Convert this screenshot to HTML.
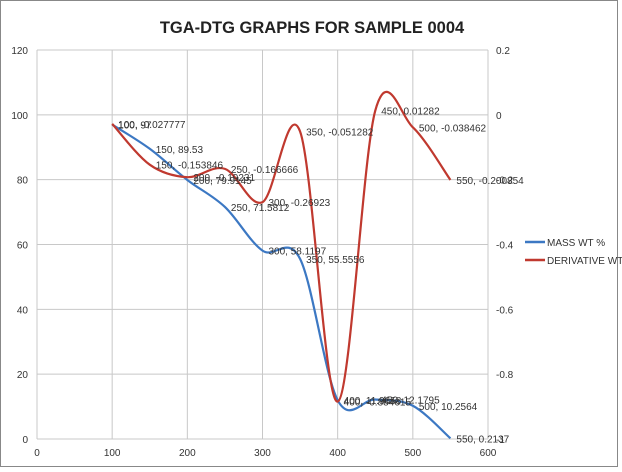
<!DOCTYPE html>
<html><head><meta charset="utf-8"><style>
body{margin:0;background:#fff;}
svg{display:block;font-family:"Liberation Sans",sans-serif;}
</style></head><body>
<svg id="c" width="622" height="472">
<rect x="0.5" y="0.5" width="617" height="466" fill="#fff" stroke="#888"/>
<text x="312" y="33" text-anchor="middle" font-size="16.5" font-weight="bold" fill="#222">TGA-DTG GRAPHS FOR SAMPLE 0004</text>
<g id="grid"></g><g id="series"></g><g id="labels"></g>
<g>
<line x1="525" y1="242" x2="545" y2="242" stroke="#3c78c3" stroke-width="2.5"/>
<text x="547" y="246" font-size="10" fill="#333">MASS WT %</text>
<line x1="525" y1="260" x2="545" y2="260" stroke="#c0392f" stroke-width="2.5"/>
<text x="547" y="264" font-size="10" fill="#333">DERIVATIVE WT</text>
</g>
</svg>
<script>
const xVals=[100,150,200,250,300,350,400,450,500,550];
const massVals=[97.0,89.53,79.9145,71.5812,58.1197,55.5556,11.9658,12.1795,10.2564,0.2137];
const derivVals=[-0.027777,-0.153846,-0.19231,-0.166666,-0.26923,-0.051282,-0.884615,0.01282,-0.038462,-0.200854];
const xTicks=[0,100,200,300,400,500,600];
const yTicks=[0,20,40,60,80,100,120];
const y2Ticks=[0.2,0,-0.2,-0.4,-0.6,-0.8,-1];
const NS="http://www.w3.org/2000/svg";
const X0=37,X1=488,Y0=439,Y1=50;
const sx=v=>X0+(v-0)/600*(X1-X0);
const sy=v=>Y0-(v-0)/120*(Y0-Y1);
const sy2=v=>Y0-(v+1)/1.2*(Y0-Y1);
function mk(tag,attrs,parent){const e=document.createElementNS(NS,tag);for(const k in attrs)e.setAttribute(k,attrs[k]);parent.appendChild(e);return e;}
const grid=document.getElementById('grid');
xTicks.forEach(t=>{
 const l=mk('line',{x1:sx(t),x2:sx(t),y1:Y1,y2:Y0,stroke:'#c8c8c8'},grid);
 
 
 const tx=mk('text',{x:sx(t),y:Y0+17,'text-anchor':'middle','font-size':'10',fill:'#333'},grid);
 tx.textContent=t;
 
 
});
yTicks.forEach(t=>{
 const l=mk('line',{x1:X0,x2:X1,y1:sy(t),y2:sy(t),stroke:'#c8c8c8'},grid);
 
 
 const tx=mk('text',{x:X0-9,y:sy(t)+4,'text-anchor':'end','font-size':'10',fill:'#333'},grid);
 tx.textContent=t;
 
 
});
y2Ticks.forEach(t=>{
 const tx=mk('text',{x:X1+8,y:sy2(t)+4,'text-anchor':'start','font-size':'10',fill:'#333'},grid);
 tx.textContent=(t===0?'0':String(t));
 
 
});
function smooth(pts){
 let d='M'+pts[0][0]+','+pts[0][1];
 for(let i=0;i<pts.length-1;i++){
  const p0=pts[i-1]||pts[i],p1=pts[i],p2=pts[i+1],p3=pts[i+2]||p2;
  const c1=[p1[0]+(p2[0]-p0[0])/6,p1[1]+(p2[1]-p0[1])/6];
  const c2=[p2[0]-(p3[0]-p1[0])/6,p2[1]-(p3[1]-p1[1])/6];
  d+=' C'+c1+' '+c2+' '+p2;
 }
 return d;
}
const ser=document.getElementById('series');
const mp=xVals.map((x,i)=>[sx(x),sy(massVals[i])]);
const dp=xVals.map((x,i)=>[sx(x),sy2(derivVals[i])]);
const pm=mk('path',{d:smooth(mp),fill:'none',stroke:'#3c78c3','stroke-width':'2.2'},ser);


const pd=mk('path',{d:smooth(dp),fill:'none',stroke:'#c0392f','stroke-width':'2.2'},ser);


const lab=document.getElementById('labels');
function addLabels(pts,vals,name){
 pts.forEach((p,i)=>{
  const t=mk('text',{x:p[0]+6,y:p[1]+4,'font-size':'10',fill:'#333'},lab);
  t.textContent=xVals[i]+', '+vals[i];
  
  
 });
}
addLabels(mp,massVals,'mass-data-label');
addLabels(dp,derivVals,'derivative-data-label');
</script>
</body></html>
